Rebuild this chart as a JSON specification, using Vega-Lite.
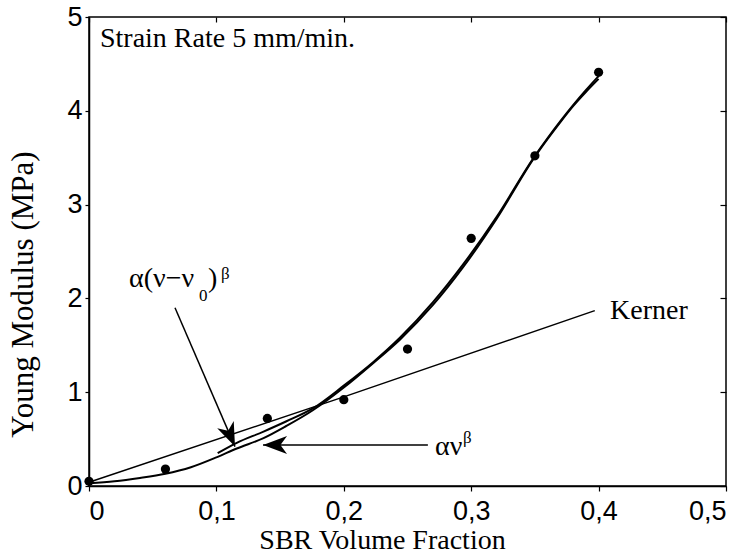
{
  "$schema": "https://vega.github.io/schema/vega-lite/v6.json",
  "width": 637,
  "height": 469,
  "autosize": {"type": "none"},
  "padding": {"left": 89, "top": 17, "right": 22, "bottom": 74},
  "background": "white",
  "config": {
    "view": {"stroke": "black", "strokeWidth": 1.5},
    "axis": {
      "domainColor": "black", "domainWidth": 1.5, "tickColor": "black", "tickWidth": 1.2,
      "labelFont": "Liberation Sans", "labelFontSize": 27, "labelColor": "black",
      "titleFont": "Liberation Serif", "titleFontSize": 27, "titleFontWeight": "normal", "titleColor": "#000000",
      "grid": false
    }
  },
  "resolve": {"axis": {"x": "independent", "y": "independent"}},
  "layer": [
    {
      "data": {"values": [
        {"x": 0, "y": 0.04}, {"x": 0.2, "y": 0.95}, {"x": 0.397, "y": 1.87}
      ]},
      "mark": {"type": "line", "color": "black", "strokeWidth": 1.5},
      "encoding": {
        "x": {"field": "x", "type": "quantitative",
          "scale": {"domain": [0, 0.5], "nice": false, "zero": false},
          "axis": {"orient": "bottom", "values": [0, 0.1, 0.2, 0.3, 0.4, 0.5], "tickSize": 5, "labelPadding": 7,
            "labelExpr": "datum.value == 0 ? '0' : replace(format(datum.value, '.1f'), '.', ',')",
            "title": "SBR Volume Fraction", "titleColor": "#000000", "titleFontSize": 28, "titleX": 293, "titleY": 62, "titleBaseline": "alphabetic", "titleAlign": "center"}},
        "y": {"field": "y", "type": "quantitative",
          "scale": {"domain": [0, 5], "nice": false},
          "axis": {"orient": "left", "values": [0, 1, 2, 3, 4, 5], "tickSize": 4, "labelPadding": 3,
            "title": "Young Modulus (MPa)", "titleColor": "#000000", "titleFontSize": 31, "titleX": -57, "titleY": 277, "titleBaseline": "alphabetic", "titleAlign": "center", "titleAngle": -90}}
      }
    },
    {
      "data": {"values": [
        {"s": "a", "x": 0, "y": 0.03}, {"s": "a", "x": 0.02, "y": 0.05}, {"s": "a", "x": 0.04, "y": 0.085},
        {"s": "a", "x": 0.06, "y": 0.13}, {"s": "a", "x": 0.08, "y": 0.2}, {"s": "a", "x": 0.1, "y": 0.305},
        {"s": "a", "x": 0.116, "y": 0.4}, {"s": "a", "x": 0.137, "y": 0.51}, {"s": "a", "x": 0.155, "y": 0.64},
        {"s": "a", "x": 0.176, "y": 0.81}, {"s": "a", "x": 0.2, "y": 1.05}, {"s": "a", "x": 0.223, "y": 1.31},
        {"s": "a", "x": 0.244, "y": 1.56}, {"s": "a", "x": 0.27, "y": 1.93}, {"s": "a", "x": 0.2935, "y": 2.33},
        {"s": "a", "x": 0.32, "y": 2.85}, {"s": "a", "x": 0.349, "y": 3.49}, {"s": "a", "x": 0.36, "y": 3.7},
        {"s": "a", "x": 0.37, "y": 3.88}, {"s": "a", "x": 0.38, "y": 4.05}, {"s": "a", "x": 0.39, "y": 4.2},
        {"s": "a", "x": 0.4, "y": 4.34},
        {"s": "b", "x": 0.101, "y": 0.35}, {"s": "b", "x": 0.116, "y": 0.46}, {"s": "b", "x": 0.137, "y": 0.58},
        {"s": "b", "x": 0.155, "y": 0.69}, {"s": "b", "x": 0.176, "y": 0.83}, {"s": "b", "x": 0.2, "y": 1.07},
        {"s": "b", "x": 0.223, "y": 1.32}, {"s": "b", "x": 0.244, "y": 1.58}, {"s": "b", "x": 0.27, "y": 1.96},
        {"s": "b", "x": 0.2935, "y": 2.36}, {"s": "b", "x": 0.32, "y": 2.87}, {"s": "b", "x": 0.349, "y": 3.5},
        {"s": "b", "x": 0.36, "y": 3.71}, {"s": "b", "x": 0.37, "y": 3.89}, {"s": "b", "x": 0.38, "y": 4.06},
        {"s": "b", "x": 0.39, "y": 4.22}, {"s": "b", "x": 0.4, "y": 4.37}
      ]},
      "mark": {"type": "line", "color": "black", "strokeWidth": 2, "interpolate": "monotone"},
      "encoding": {
        "x": {"field": "x", "type": "quantitative", "axis": null},
        "y": {"field": "y", "type": "quantitative", "axis": null},
        "detail": {"field": "s"}
      }
    },
    {
      "data": {"values": [
        {"x": 0, "y": 0.05}, {"x": 0.06, "y": 0.18}, {"x": 0.14, "y": 0.72}, {"x": 0.2, "y": 0.92},
        {"x": 0.25, "y": 1.46}, {"x": 0.3, "y": 2.64}, {"x": 0.35, "y": 3.52}, {"x": 0.4, "y": 4.41}
      ]},
      "mark": {"type": "point", "filled": true, "color": "black", "size": 85, "opacity": 1},
      "encoding": {
        "x": {"field": "x", "type": "quantitative",
          "axis": {"orient": "top", "values": [0, 0.1, 0.2, 0.3, 0.4, 0.5], "labels": false, "domain": false, "tickSize": -5, "title": null}},
        "y": {"field": "y", "type": "quantitative",
          "axis": {"orient": "right", "values": [0, 1, 2, 3, 4, 5], "labels": false, "domain": false, "tickSize": -6, "title": null}}
      }
    },
    {
      "data": {"values": [
        {"x": 0.0675, "y": 1.9, "x2": 0.1146, "y2": 0.42},
        {"x": 0.266, "y": 0.437, "x2": 0.1366, "y2": 0.437}
      ]},
      "mark": {"type": "rule", "color": "black", "strokeWidth": 1.5},
      "encoding": {
        "x": {"field": "x", "type": "quantitative", "axis": null},
        "y": {"field": "y", "type": "quantitative", "axis": null},
        "x2": {"field": "x2"},
        "y2": {"field": "y2"}
      }
    },
    {
      "data": {"values": [{"x": 0.1366, "y": 0.437}]},
      "mark": {"type": "point", "filled": true, "color": "black", "opacity": 1, "size": 576, "angle": 0,
        "shape": "M0,0L2,-0.75L1.45,0L2,0.75Z"},
      "encoding": {
        "x": {"field": "x", "type": "quantitative", "axis": null},
        "y": {"field": "y", "type": "quantitative", "axis": null}
      }
    },
    {
      "data": {"values": [{"x": 0.1146, "y": 0.42}]},
      "mark": {"type": "point", "filled": true, "color": "black", "opacity": 1, "size": 576, "angle": 246.6,
        "shape": "M0,0L2,-0.75L1.45,0L2,0.75Z"},
      "encoding": {
        "x": {"field": "x", "type": "quantitative", "axis": null},
        "y": {"field": "y", "type": "quantitative", "axis": null}
      }
    },
    {
      "data": {"values": [
        {"x": 0.0086, "y": 4.68, "t": "Strain Rate 5 mm/min."},
        {"x": 0.409, "y": 1.78, "t": "Kerner"},
        {"x": 0.0314, "y": 2.12, "t": "α(ν−ν"},
        {"x": 0.0934, "y": 2.12, "t": ")"},
        {"x": 0.2716, "y": 0.33, "t": "αν"}
      ]},
      "mark": {"type": "text", "font": "Liberation Serif", "fontSize": 28, "align": "left", "baseline": "alphabetic", "color": "black"},
      "encoding": {
        "x": {"field": "x", "type": "quantitative", "axis": null},
        "y": {"field": "y", "type": "quantitative", "axis": null},
        "text": {"field": "t"}
      }
    },
    {
      "data": {"values": [
        {"x": 0.0863, "y": 1.97, "t": "0"},
        {"x": 0.1036, "y": 2.21, "t": "β"},
        {"x": 0.2935, "y": 0.46, "t": "β"}
      ]},
      "mark": {"type": "text", "font": "Liberation Serif", "fontSize": 17, "align": "left", "baseline": "alphabetic", "color": "black"},
      "encoding": {
        "x": {"field": "x", "type": "quantitative", "axis": null},
        "y": {"field": "y", "type": "quantitative", "axis": null},
        "text": {"field": "t"}
      }
    }
  ]
}
